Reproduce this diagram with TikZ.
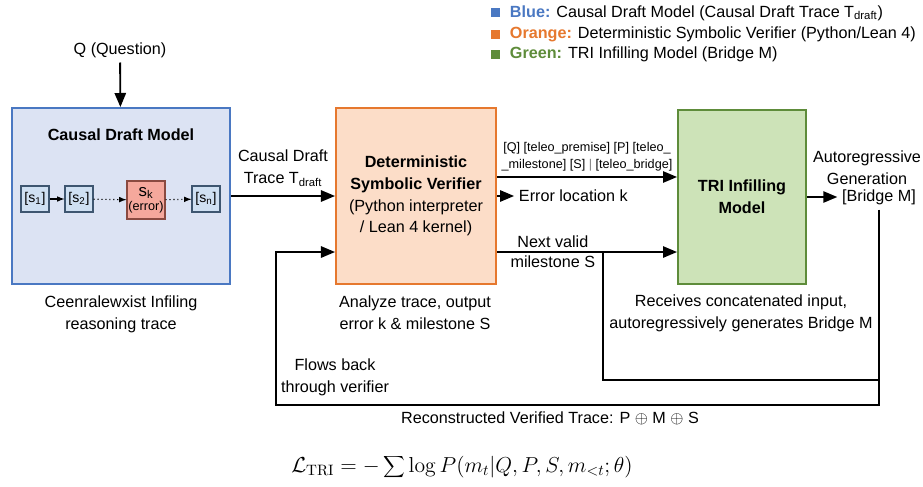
\documentclass[tikz,border=0pt]{standalone}
\usepackage[no-math]{fontspec}
\setmainfont{Liberation Sans}
\usepackage{tikz}
\usepackage{xcolor}
\usetikzlibrary{arrows}
\usetikzlibrary{shapes}

\definecolor{blaurand}{HTML}{4A78C2}
\definecolor{blaufill}{HTML}{DCE3F3}
\definecolor{orangerand}{HTML}{E6782E}
\definecolor{orangefill}{HTML}{FCDDC8}
\definecolor{gruenrand}{HTML}{5E8C3A}
\definecolor{gruenfill}{HTML}{CDE3B8}
\definecolor{schrittrand}{HTML}{3E5670}
\definecolor{schrittfill}{HTML}{CFE0F2}
\definecolor{fehlerrand}{HTML}{8A4A40}
\definecolor{fehlerfill}{HTML}{F5A89C}

\begin{document}
\begin{tikzpicture}[x=0.025cm, y=-0.025cm,
	every node/.style={font=\fontsize{11.5}{15.5}\selectfont, align=center},
	pfeil/.style={-triangle 45, line width = 1.3pt},
	linie/.style={line width = 1.3pt},
	block/.style={draw, line width = 1.5pt, inner sep=0pt},
	schritt/.style={draw=schrittrand, fill=schrittfill, line width = 0.8pt, minimum width=0.7cm, minimum height=0.65cm, inner sep=1pt, font=\fontsize{10}{11}\selectfont},
	klein/.style={-latex, line width = 0.8pt}]
		\useasboundingbox (0,0) rectangle (923,487);
		%
		%Legende
		\fill[blaurand] (491,8) rectangle (500,17);
		\node[anchor=base west] (lblau) at (505,17) {\textcolor{blaurand}{\textbf{Blue:}} Causal Draft Model (Causal Draft Trace T\textsubscript{draft})};
		\fill[orangerand] (491,30) rectangle (500,39);
		\node[anchor=base west] (lorange) at (505,38.5) {\textcolor{orangerand}{\textbf{Orange:}} Deterministic Symbolic Verifier (Python/Lean 4)};
		\fill[gruenrand] (491,50) rectangle (500,59);
		\node[anchor=base west] (lgruen) at (505,58.5) {\textcolor{gruenrand}{\textbf{Green:}} TRI Infilling Model (Bridge M)};
		%
		%Causal Draft Model
		\node[block, draw=blaurand, fill=blaufill, minimum width=5.45cm, minimum height=4.4cm] (draft) at (121,196) {};
		\node[font=\bfseries\fontsize{11.5}{15.5}\selectfont] (drafttitel) at (121,135) {Causal Draft Model};
		\node[schritt] (s1) at (35,199) {[s\textsubscript{1}]};
		\node[schritt] (s2) at (79,199) {[s\textsubscript{2}]};
		\node[schritt, draw=fehlerrand, fill=fehlerfill, minimum width=0.875cm, minimum height=0.95cm, font=\fontsize{9}{10}\selectfont] (sk) at (146,200) {\fontsize{12}{12}\selectfont s\textsubscript{k}\\(error)};
		\node[schritt] (sn) at (206,199) {[s\textsubscript{n}]};
		\draw[klein] (s1) -- (s2);
		\draw[klein, dotted] (s2) -- (sk);
		\draw[klein, dotted] (sk) -- (sn);
		\node (draftnotiz) at (121,314) {Ceenralewxist Infiling\\reasoning trace};
		%
		%Frage
		\node (frage) at (120,50) {Q (Question)};
		\draw[pfeil] (frage) -- (draft);
		%
		%Verifier
		\node[block, draw=orangerand, fill=orangefill, minimum width=4.0cm, minimum height=4.4cm] (verifier) at (416,196) {\textbf{Deterministic}\\\textbf{Symbolic Verifier}\\(Python interpreter\\/ Lean 4 kernel)};
		\node (verifiernotiz) at (415,313) {Analyze trace, output\\error k \& milestone S};
		%
		%Pfeil Draft-Verifier
		\draw[pfeil] (draft) -- node[above=1mm] (spur) {Causal Draft\\Trace T\textsubscript{draft}} (verifier);
		%
		%TRI Infilling Model
		\node[block, draw=gruenrand, fill=gruenfill, minimum width=3.2cm, minimum height=4.35cm, font=\bfseries\fontsize{11.5}{15.5}\selectfont] (tri) at (742,197) {TRI Infilling\\Model};
		\node (trinotiz) at (741,313) {Receives concatenated input,\\autoregressively generates Bridge M};
		%
		%Pfeil Verifier-TRI oben
		\draw[pfeil] ([yshift=0.475cm]verifier.east) -- node[above, font=\fontsize{9}{12}\selectfont] (tokens) {[Q] [teleo\_premise] [P] [teleo\_\\\_milestone] [S] \textcolor{gray}{|} [teleo\_bridge]} ([yshift=0.475cm]verifier.east -| tri.west);
		%
		%Pfeil Fehlerort
		\node[anchor=west] (fehlerort) at (514,196) {Error location k};
		\draw[pfeil] (verifier) -- (fehlerort);
		%
		%Pfeil Verifier-TRI unten
		\draw[pfeil] ([yshift=-1.4cm]verifier.east) -- node[pos=0.31, above=-1pt] (nv1) {Next valid} node[pos=0.31, below=-1pt] (nv2) {milestone S} ([yshift=-1.4cm]verifier.east -| tri.west);
		%
		%Ausgabe TRI
		\node (bridge) at (879,197) {[Bridge M]};
		\node (autoreg) at (867,168) {Autoregressive\\Generation};
		\draw[pfeil] (tri) -- (bridge);
		%
		%Abzweig Meilenstein
		\coordinate (abzw) at (603,252);
		\coordinate (zus) at (603,380);
		\draw[linie] (abzw) -- (zus) -- (zus -| bridge.south);
		%
		%Rueckfuehrung
		\coordinate (links) at (276,405);
		\draw[pfeil] (bridge.south) |- (links) |- ([yshift=-1.4cm]verifier.west);
		\node (rueck) at (335,377) {Flows back\\through verifier};
		\node (rekon) at (550,418) {Reconstructed Verified Trace: P $\oplus$ M $\oplus$ S};
		%
		%Verlustfunktion
		\node[font=\fontsize{14.4}{17}\selectfont, scale=1.07] (verlust) at (462,467) {$\displaystyle\mathcal{L}_{\mathrm{TRI}} = -\sum\nolimits \log P(m_t|Q,P,S,m_{<t};\theta)$};
	\end{tikzpicture}
\end{document}
